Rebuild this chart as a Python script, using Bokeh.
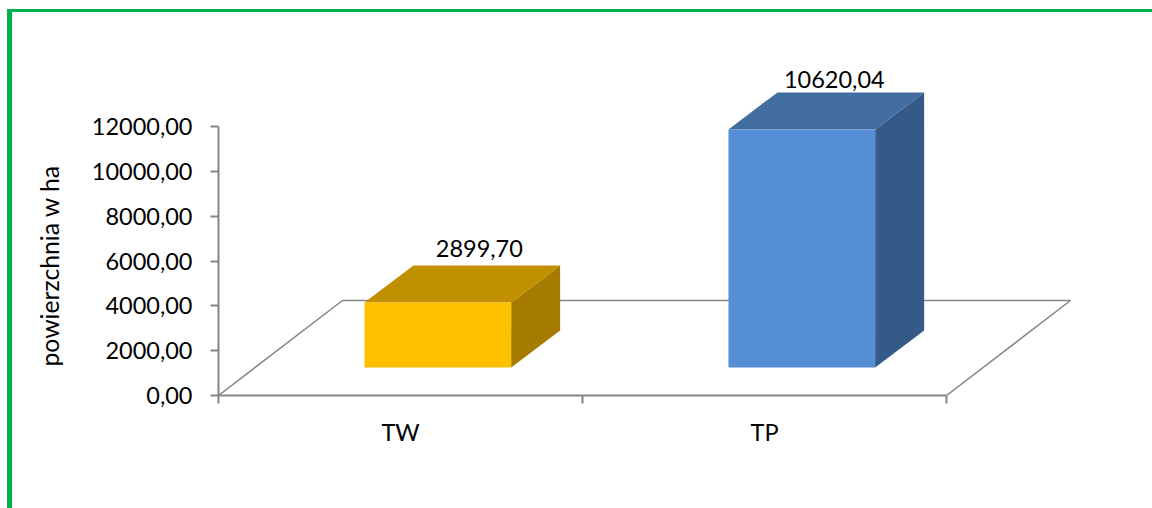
from bokeh.embed import file_html
from bokeh.resources import INLINE
from bokeh.plotting import figure
from bokeh.models import ColumnDataSource, LinearAxis, FixedTicker, Range1d, Title
from bokeh.core.properties import value

# ---- data ----
categories = ["TW", "TP"]
values = [2899.70, 10620.04]
value_labels = ["2899,70", "10620,04"]
y_ticks = [0, 2000, 4000, 6000, 8000, 10000, 12000]
y_tick_labels = ["0,00", "2000,00", "4000,00", "6000,00", "8000,00", "10000,00", "12000,00"]
axis_title = "powierzchnia w ha"

# ---- colours ----
front_colors = ["#FFC000", "#558ED5"]
top_colors = ["#C09000", "#416DA1"]
side_colors = ["#A57C00", "#365A87"]
GREY = "#868686"
GREEN = "#00B050"
FONT = "Lato"
FS = "23.5px"

# ---- layout (pixels of the figure) ----
W, H = 1152, 508
LEFT, BOTTOM = 218, 113        # frame offset: the value axis sits here
PX_PER_CAT = 364.0
PX_PER_UNIT = 269.0 / 12000.0

# ---- 3D pseudo-perspective, in data units ----
BAR_START, BAR_WIDTH = 0.401, 0.403
BAR_BASE = 1250
BAR_DX, BAR_DY = 49 / PX_PER_CAT, 37 / PX_PER_UNIT
FLOOR_DX, FLOOR_DY = 124 / PX_PER_CAT, 95 / PX_PER_UNIT
label_dx = [17, 8]
label_dy = [-17, -13]

# the canvas is transparent so that the green frame, painted behind it, shows at the page's edge
bar = f"linear-gradient({GREEN},{GREEN})"
p = figure(width=W, height=H, output_backend="svg", toolbar_location=None,
           x_axis_type=None, y_axis_type=None,
           min_border_left=LEFT, min_border_bottom=BOTTOM, min_border_top=0, min_border_right=0,
           background_fill_color=None, border_fill_color=None, outline_line_color=None,
           styles={"background": f"{bar} 7px 9px / 5px 499px no-repeat, "
                                 f"{bar} 7px 9px / 1145px 3px no-repeat, #ffffff"})
p.x_range = Range1d(0, (W - LEFT) / PX_PER_CAT)
p.y_range = Range1d(0, (H - BOTTOM) / PX_PER_UNIT)
p.grid.visible = False

# floor outline behind the bars
p.line([0, FLOOR_DX, 2 + FLOOR_DX, 2], [0, FLOOR_DY, FLOOR_DY, 0], line_color=GREY, line_width=1.5)

# bars: three faces each
front_xs, front_ys, top_xs, top_ys, side_xs, side_ys = [], [], [], [], [], []
for i, v in enumerate(values):
    x0 = i + BAR_START
    x1 = x0 + BAR_WIDTH
    y0 = BAR_BASE
    y1 = BAR_BASE + v
    front_xs.append([x0, x1, x1, x0])
    front_ys.append([y0, y0, y1, y1])
    top_xs.append([x0, x1, x1 + BAR_DX, x0 + BAR_DX])
    top_ys.append([y1, y1, y1 + BAR_DY, y1 + BAR_DY])
    side_xs.append([x1, x1 + BAR_DX, x1 + BAR_DX, x1])
    side_ys.append([y0, y0 + BAR_DY, y1 + BAR_DY, y1])

p.patches(side_xs, side_ys, fill_color=side_colors, line_color=None)
p.patches(top_xs, top_ys, fill_color=top_colors, line_color=None)
p.patches(front_xs, front_ys, fill_color=front_colors, line_color=None)

# value labels above the bars
src = ColumnDataSource(dict(
    x=[i + BAR_START + (BAR_WIDTH + BAR_DX) / 2 for i in range(len(values))],
    y=[BAR_BASE + v + BAR_DY for v in values],
    t=value_labels, dx=label_dx, dy=label_dy))
p.text("x", "y", text="t", source=src, x_offset="dx", y_offset="dy",
       text_font=value(FONT), text_font_size=FS, text_color="#000000",
       text_align="center", text_baseline="alphabetic")

# value axis
ya = LinearAxis(ticker=FixedTicker(ticks=y_ticks), bounds=(0, 12000),
                major_label_overrides=dict(zip(y_ticks, y_tick_labels)),
                major_label_text_font=FONT, major_label_text_font_size=FS,
                major_label_text_color="#000000", major_label_standoff=18,
                axis_line_color=GREY, axis_line_width=2,
                major_tick_line_color=GREY, major_tick_line_width=2,
                major_tick_in=0, major_tick_out=8,
                minor_tick_line_color=None)
p.add_layout(ya, "left")

# category axis: names at the centres, tick marks at the boundaries
xa = LinearAxis(ticker=FixedTicker(ticks=[0.5, 1.5], minor_ticks=[0, 1, 2]), bounds=(0, 2),
                major_label_overrides={0.5: categories[0], 1.5: categories[1]},
                major_label_text_font=FONT, major_label_text_font_size=FS,
                major_label_text_color="#000000", major_label_standoff=14,
                axis_line_color=GREY, axis_line_width=2,
                major_tick_line_color=None, major_tick_in=0, major_tick_out=0,
                minor_tick_line_color=GREY, minor_tick_line_width=2,
                minor_tick_in=0, minor_tick_out=8)
p.add_layout(xa, "below")

# axis title
p.add_layout(Title(text=axis_title, align="left", offset=29, standoff=49,
                   text_font=FONT, text_font_size="24.7px", text_font_style="normal",
                   text_color="#000000"), "left")

open("out.html", "w").write(file_html(p, INLINE))
